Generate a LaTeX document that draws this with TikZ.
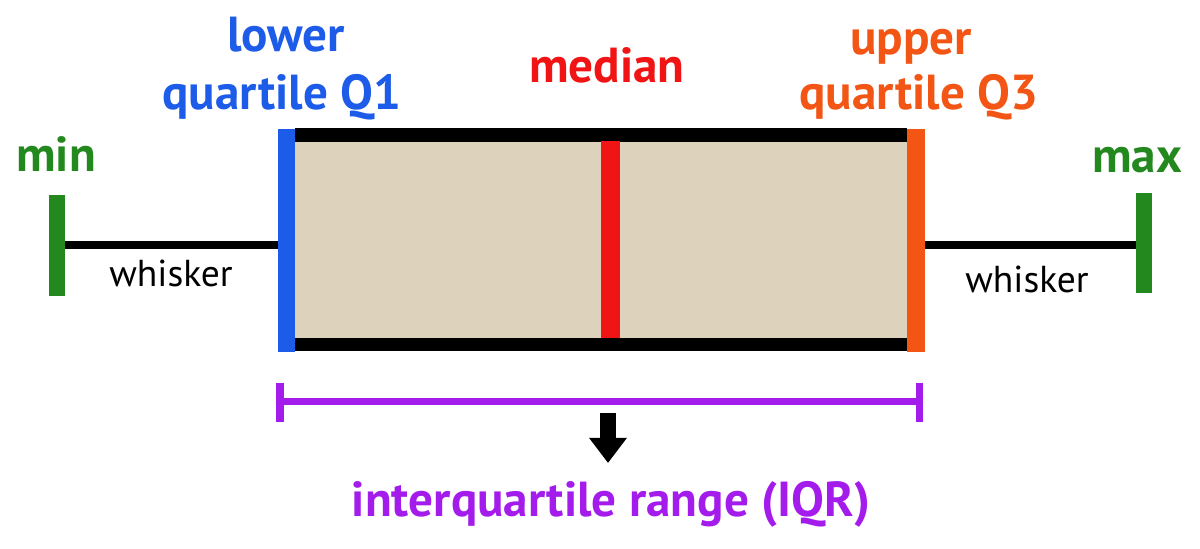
\documentclass[tikz,border=0pt]{standalone}
\usepackage{fontspec}
\setmainfont{PT Sans}
\usetikzlibrary{arrows.meta}
\definecolor{qblue}{HTML}{1C5CE8}
\definecolor{qorange}{HTML}{F25514}
\definecolor{qgreen}{HTML}{23881E}
\definecolor{qred}{HTML}{F01414}
\definecolor{qpurple}{HTML}{A31CEB}
\definecolor{qtan}{HTML}{DDD3BC}
\tikzset{
  lab/.style={inner sep=0pt, anchor=base, font=\fontsize{29.5}{31}\selectfont\bfseries},
  wlab/.style={inner sep=0pt, anchor=base, font=\fontsize{22.5}{24}\selectfont},
  bar/.style={inner sep=0pt, outer sep=0pt, draw=none, rectangle},
}
\begin{document}
\begin{tikzpicture}[x=0.6pt,y=-0.6pt]
\useasboundingbox (0,0) rectangle (1200,549);
% box
\node[bar, fill=qtan, minimum width=612*0.6pt, minimum height=210*0.6pt] (box) at (601,240) {};
\draw[line width=14*0.6pt] (box.north west) -- (box.north east);
\draw[line width=13*0.6pt] (box.south west) -- (box.south east);
\node[bar, fill=qred, minimum width=19*0.6pt, minimum height=197*0.6pt] (med) at (610.5,239.5) {};
\node[bar, fill=qblue, minimum width=17*0.6pt, minimum height=223*0.6pt] (q1) at (286.5,240.5) {};
\node[bar, fill=qorange, minimum width=18*0.6pt, minimum height=223*0.6pt] (q3) at (916,240.5) {};
% whiskers
\node[bar, fill=qgreen, minimum width=16*0.6pt, minimum height=101*0.6pt] (mn) at (57,245.5) {};
\node[bar, fill=qgreen, minimum width=16*0.6pt, minimum height=100*0.6pt] (mx) at (1144,243) {};
\draw[line width=8*0.6pt] (mn.east |- 0,245) -- (q1.west |- 0,245);
\draw[line width=8*0.6pt] (q3.east |- 0,245) -- (mx.west |- 0,245);
% labels
\node[lab, text=qblue] (lower) at (286,52) {lower};
\node[lab, text=qblue] (qa) at (282,110) {quartile Q1};
\node[lab, text=qred] (median) at (607,83) {median};
\node[lab, text=qorange] (upper) at (911,55) {upper};
\node[lab, text=qorange] (qc) at (919,110) {quartile Q3};
\node[lab, text=qgreen] (minl) at (56,172) {min};
\node[lab, text=qgreen] (maxl) at (1137,173) {max};
\node[wlab] (wl) at (171,287) {whisker};
\node[wlab] (wr) at (1027,293) {whisker};
% IQR bracket
\coordinate (il) at (280,401.5);
\coordinate (ir) at (919.5,401.5);
\draw[qpurple, line width=7*0.6pt] (il) -- (ir);
\draw[qpurple, line width=8*0.6pt] (280,383) -- (280,422);
\draw[qpurple, line width=7*0.6pt] (919.5,383) -- (919.5,422);
\node[lab, text=qpurple] (iqr) at (611,517) {interquartile range (IQR)};
\coordinate (as) at (608,413);
\coordinate (ae) at (608,463);
\draw[line width=16*0.6pt, -{Triangle[width=36*0.6pt, length=25*0.6pt]}] (as) -- (ae);
\end{tikzpicture}
\end{document}
